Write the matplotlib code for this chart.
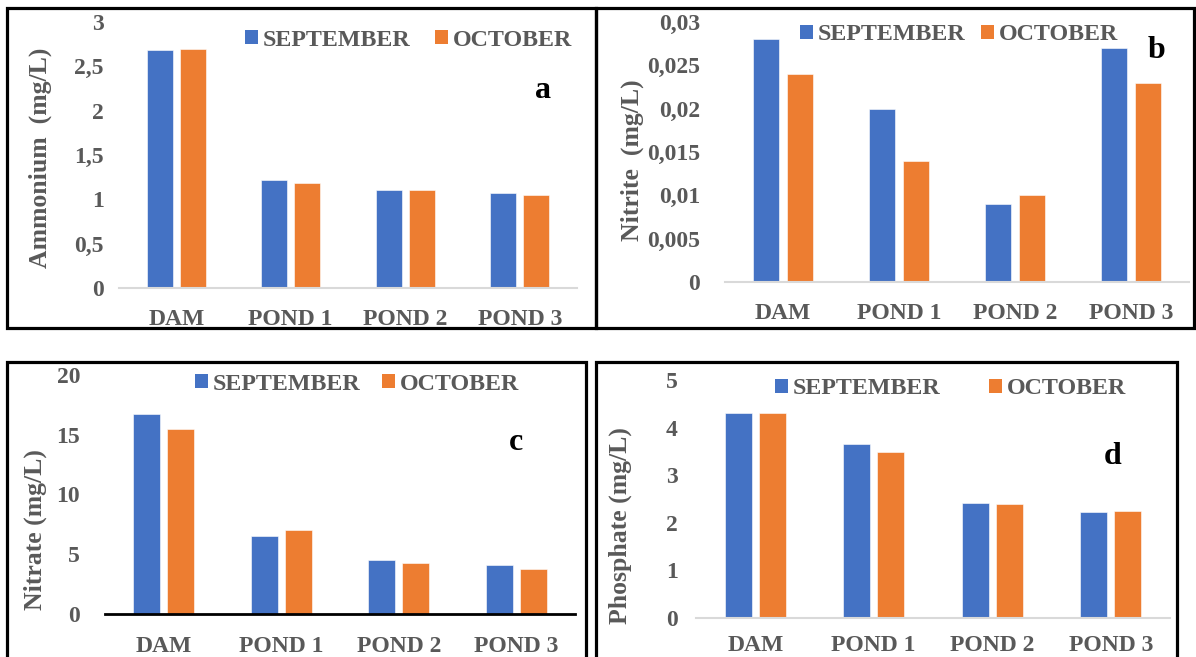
import matplotlib
matplotlib.use("Agg")
import matplotlib.pyplot as plt
from matplotlib.patches import Rectangle, Patch
import numpy as np

# data
sites = ["DAM", "POND 1", "POND 2", "POND 3"]
months = ["SEPTEMBER", "OCTOBER"]

ammonium_sep = [2.68, 1.22, 1.11, 1.07]
ammonium_oct = [2.70, 1.18, 1.10, 1.05]
nitrite_sep = [0.028, 0.020, 0.009, 0.027]
nitrite_oct = [0.024, 0.014, 0.010, 0.023]
nitrate_sep = [16.7, 6.5, 4.5, 4.1]
nitrate_oct = [15.5, 7.0, 4.3, 3.8]
phosphate_sep = [4.31, 3.65, 2.42, 2.22]
phosphate_oct = [4.31, 3.49, 2.39, 2.25]

ammonium_ticks = [0, 0.5, 1, 1.5, 2, 2.5, 3]
ammonium_labels = ["0", "0,5", "1", "1,5", "2", "2,5", "3"]
nitrite_ticks = [0, 0.005, 0.01, 0.015, 0.02, 0.025, 0.03]
nitrite_labels = ["0", "0,005", "0,01", "0,015", "0,02", "0,025", "0,03"]
nitrate_ticks = [0, 5, 10, 15, 20]
nitrate_labels = ["0", "5", "10", "15", "20"]
phosphate_ticks = [0, 1, 2, 3, 4, 5]
phosphate_labels = ["0", "1", "2", "3", "4", "5"]

BLUE = "#4472C4"
ORANGE = "#ED7D31"
GREY = "#595959"
FONT = "Liberation Serif"

W, H = 1196, 657
fig = plt.figure(figsize=(W / 100, H / 100), dpi=100)
fig.patch.set_facecolor("white")


def fx(x):
    return x / W


def fy(y):
    return 1 - y / H


# panel frames (pixel boxes: left, top, right, bottom)
for l, t, r, b in [(7, 8, 596, 328), (596, 8, 1194, 328),
                   (7, 362, 586, 670), (596, 362, 1177, 670)]:
    fig.add_artist(Rectangle((fx(l), fy(b)), fx(r - l), (b - t) / H,
                             transform=fig.transFigure, fill=False,
                             edgecolor="black", linewidth=2.3, clip_on=False))

panels = [
    dict(sep=ammonium_sep, oct=ammonium_oct, ticks=ammonium_ticks, labels=ammonium_labels,
         ylabel="Ammonium  (mg/L)", box=(119, 22, 577, 288), ypad=11, xpad=15, xline="#D9D9D9",
         ylab_xy=(40, 158), leg_xy=(245, 40), colsp=1.0, letter="a", let_xy=(543, 90)),
    dict(sep=nitrite_sep, oct=nitrite_oct, ticks=nitrite_ticks, labels=nitrite_labels,
         ylabel="Nitrite  (mg/L)", box=(725, 22, 1189, 282), ypad=18, xpad=15, xline="#D9D9D9",
         ylab_xy=(632, 160), leg_xy=(800, 35), colsp=0.62, letter="b", let_xy=(1157, 50)),
    dict(sep=nitrate_sep, oct=nitrate_oct, ticks=nitrate_ticks, labels=nitrate_labels,
         ylabel="Nitrate (mg/L)", box=(105, 375, 575, 614), ypad=18, xpad=16, xline="black",
         ylab_xy=(35, 530), leg_xy=(195, 384), colsp=0.88, letter="c", let_xy=(516, 442)),
    dict(sep=phosphate_sep, oct=phosphate_oct, ticks=phosphate_ticks, labels=phosphate_labels,
         ylabel="Phosphate (mg/L)", box=(696, 380, 1170, 618), ypad=13, xpad=12, xline="#D9D9D9",
         ylab_xy=(620, 526), leg_xy=(775, 389), colsp=2.0, letter="d", let_xy=(1113, 456)),
]

x = np.arange(len(sites))
bw = 0.227
off = 0.145

for p in panels:
    l, t, r, b = p["box"]
    ax = fig.add_axes([fx(l), fy(b), fx(r - l), (b - t) / H])
    ax.bar(x - off, p["sep"], bw, color=BLUE, edgecolor="white", linewidth=0.4, label=months[0])
    ax.bar(x + off, p["oct"], bw, color=ORANGE, edgecolor="white", linewidth=0.4, label=months[1])
    ax.set_xlim(-0.5, len(sites) - 0.5)
    ax.set_ylim(p["ticks"][0], p["ticks"][-1])
    ax.set_yticks(p["ticks"])
    ax.set_yticklabels(p["labels"])
    ax.set_xticks(x)
    ax.set_xticklabels(sites)
    for s in ["top", "right", "left"]:
        ax.spines[s].set_visible(False)
    ax.spines["bottom"].set_color(p["xline"])
    ax.spines["bottom"].set_linewidth(2.0 if p["xline"] == "black" else 1.5)
    ax.tick_params(axis="both", length=0, colors=GREY)
    ax.tick_params(axis="y", pad=p["ypad"])
    ax.tick_params(axis="x", pad=p["xpad"])
    for lab in ax.get_xticklabels() + ax.get_yticklabels():
        lab.set_fontfamily(FONT)
        lab.set_fontweight("bold")
        lab.set_fontsize(17)
    ax.set_ylabel(p["ylabel"], fontfamily=FONT, fontweight="bold", fontsize=18.5, color=GREY)
    lx, ly = p["ylab_xy"]
    ax.yaxis.set_label_coords(fx(lx), fy(ly), transform=fig.transFigure)
    ax.yaxis.label.set_verticalalignment("center")

    handles = [Patch(facecolor=BLUE), Patch(facecolor=ORANGE)]
    gx, gy = p["leg_xy"]
    ax.legend(handles, months, ncol=2, loc="center left",
              bbox_to_anchor=(fx(gx), fy(gy)), bbox_transform=fig.transFigure,
              frameon=False, handlelength=0.55, handleheight=0.55,
              handletextpad=0.2, columnspacing=p["colsp"], borderpad=0,
              borderaxespad=0, labelcolor=GREY,
              prop=dict(family=FONT, weight="bold", size=17.3))

    lx, ly = p["let_xy"]
    fig.text(fx(lx), fy(ly), p["letter"], fontfamily=FONT, fontweight="bold",
             fontsize=23, color="black", ha="center", va="center")

fig.savefig("out.png", dpi=100)
